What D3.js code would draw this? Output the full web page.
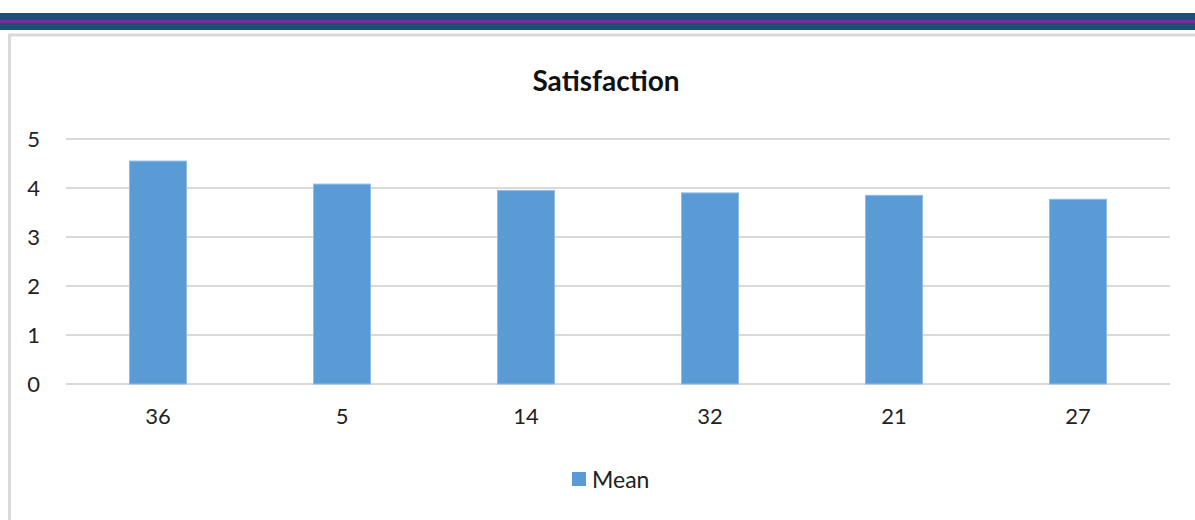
<!DOCTYPE html>
<meta charset="utf-8">
<style>
body { margin: 0; background: #fff; }
.axis text { font: 22px Lato, sans-serif; fill: #222; }
.grid line { stroke: #d9d9d9; stroke-width: 2; shape-rendering: crispEdges; }
.bar { fill: #5b9bd5; stroke: #8fbde6; stroke-width: 1; }
</style>
<body>
<script src="https://d3js.org/d3.v7.min.js"></script>
<script>

var categories = ["36", "5", "14", "32", "21", "27"];
var meanValues = [4.55, 4.08, 3.95, 3.90, 3.85, 3.77];
var yTicks = [0, 1, 2, 3, 4, 5];
var seriesName = "Mean";
var chartTitle = "Satisfaction";

var width = 1195, height = 520;

var svg = d3.select("body").append("svg")
    .attr("width", width)
    .attr("height", height);

// header band
svg.append("rect").attr("x", 0).attr("y", 13).attr("width", width).attr("height", 17).attr("fill", "#1f4e79");
svg.append("rect").attr("x", 0).attr("y", 20).attr("width", width).attr("height", 3).attr("fill", "#7030a0");

// chart frame
svg.append("rect")
    .attr("x", 9.5).attr("y", 35)
    .attr("width", width + 20).attr("height", height)
    .attr("fill", "none")
    .attr("stroke", "#d9d9d9")
    .attr("stroke-width", 3);

var x = d3.scaleBand()
    .domain(categories)
    .range([66, 1170])
    .paddingInner(0.69)
    .paddingOuter(0.345);

var y = d3.scaleLinear()
    .domain([0, 5])
    .range([384, 139]);

// gridlines
svg.append("g")
    .attr("class", "grid")
    .selectAll("line")
    .data(yTicks)
    .enter().append("line")
    .attr("x1", 66)
    .attr("x2", 1170)
    .attr("y1", function(d) { return Math.round(y(d)); })
    .attr("y2", function(d) { return Math.round(y(d)); });

// y axis labels
var yAxis = d3.axisLeft(y).tickValues(yTicks).tickFormat(d3.format("d")).tickSize(0).tickPadding(0);
svg.append("g")
    .attr("class", "y axis")
    .attr("transform", "translate(40,0)")
    .call(yAxis)
    .call(function(g) { g.select(".domain").remove(); });

// x axis labels
var xAxis = d3.axisBottom(x).tickSize(0).tickPadding(0);
svg.append("g")
    .attr("class", "x axis")
    .attr("transform", "translate(0,408)")
    .call(xAxis)
    .call(function(g) { g.select(".domain").remove(); });

// bars
svg.selectAll(".bar")
    .data(meanValues)
    .enter().append("rect")
    .attr("class", "bar")
    .attr("x", function(d, i) { return x(categories[i]); })
    .attr("y", function(d) { return y(d); })
    .attr("width", x.bandwidth())
    .attr("height", function(d) { return y(0) - y(d); });

// title
svg.append("text")
    .attr("x", 606)
    .attr("y", 91)
    .attr("text-anchor", "middle")
    .style("font", "bold 28px Lato, sans-serif")
    .style("fill", "#111")
    .text(chartTitle);

// legend
var legend = svg.append("g").attr("transform", "translate(572,472)");
legend.append("rect")
    .attr("width", 14).attr("height", 14)
    .attr("fill", "#5b9bd5");
legend.append("text")
    .attr("x", 20)
    .attr("y", 16)
    .style("font", "23px Lato, sans-serif")
    .style("fill", "#222")
    .text(seriesName);

</script>
</body>
